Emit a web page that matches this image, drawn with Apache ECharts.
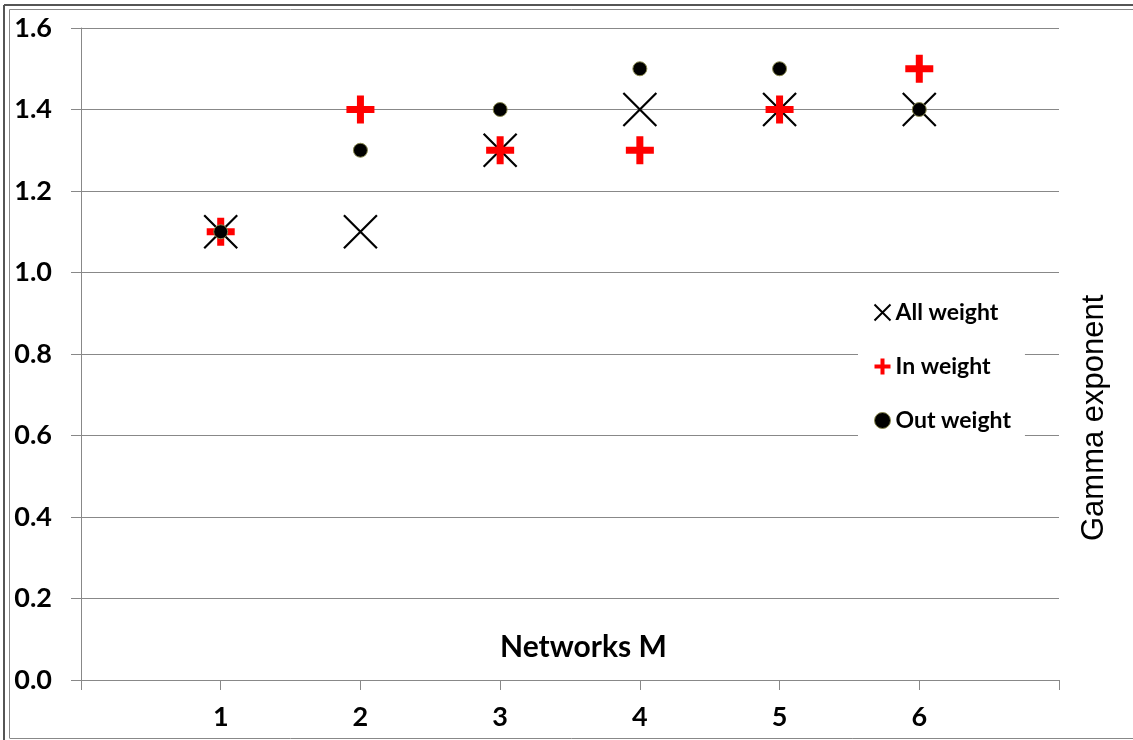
<!DOCTYPE html>
<html>
<head>
<meta charset="utf-8">
<style>
  html, body { margin: 0; padding: 0; background: #fff; }
  #chart { width: 1133px; height: 740px; }
</style>
<script src="https://cdn.jsdelivr.net/npm/echarts@6/dist/echarts.min.js"></script>
</head>
<body>
<div id="chart"></div>
<script>
// Networks M on the x axis, gamma exponent on the y axis
const networks = [1, 2, 3, 4, 5, 6];
const allWeight = [1.1, 1.1, 1.3, 1.4, 1.4, 1.4];
const inWeight = [1.1, 1.4, 1.3, 1.3, 1.4, 1.5];
const outWeight = [1.1, 1.3, 1.4, 1.5, 1.5, 1.4];
const seriesNames = ['All weight', 'In weight', 'Out weight'];
const xTitle = 'Networks M';
const yTitle = 'Gamma exponent';

const pairs = (ys) => networks.map((x, i) => [x, ys[i]]);

const crossPath = 'path://M0,0L10,10M10,0L0,10';
const plusPath = 'path://M10.5,0H17.5V10.5H28V17.5H17.5V28H10.5V17.5H0V10.5H10.5Z';

const labelFont = { fontFamily: 'Lato', fontWeight: 'bold', color: '#000' };

const chart = echarts.init(document.getElementById('chart'), null, { renderer: 'canvas' });
chart.setOption({
  animation: false,
  backgroundColor: '#fff',
  grid: { left: 81, right: 74, top: 28, bottom: 60, containLabel: false },
  xAxis: {
    type: 'value', min: 0, max: 7, interval: 1,
    splitLine: { show: false },
    axisLine: { lineStyle: { color: '#888', width: 1 } },
    axisTick: { show: true, length: 10, lineStyle: { color: '#888' } },
    axisLabel: Object.assign({
      fontSize: 27, margin: 24,
      formatter: (v) => (v >= 1 && v <= 6 ? String(v) : '')
    }, labelFont)
  },
  yAxis: {
    type: 'value', min: 0, max: 1.6, interval: 0.2,
    splitLine: { show: true, lineStyle: { color: '#888', width: 1 } },
    axisLine: { show: true, lineStyle: { color: '#888', width: 1 } },
    axisTick: { show: true, length: 10, lineStyle: { color: '#888' } },
    axisLabel: Object.assign({
      fontSize: 27, margin: 29, align: 'right',
      formatter: (v) => v.toFixed(1)
    }, labelFont)
  },
  legend: {
    orient: 'vertical',
    left: 858, top: 289,
    padding: [12, 14, 14, 14],
    backgroundColor: '#fff',
    itemGap: 31,
    itemWidth: 16, itemHeight: 16,
    textStyle: { fontFamily: 'Lato', fontWeight: 'bold', fontSize: 23, color: '#000' },
    data: [
      { name: seriesNames[0], icon: crossPath, itemStyle: { color: 'none', borderColor: '#000', borderWidth: 2, opacity: 1 } },
      { name: seriesNames[1], icon: plusPath, itemStyle: { color: '#ff0000', borderWidth: 0, opacity: 1 } },
      { name: seriesNames[2], icon: 'circle', itemStyle: { color: '#000', borderColor: '#8a8a50', borderWidth: 1, opacity: 1 } }
    ]
  },
  series: [
    {
      name: seriesNames[0], type: 'scatter', data: pairs(allWeight), z: 2,
      symbol: crossPath, symbolSize: 33,
      itemStyle: { color: 'none', borderColor: '#000', borderWidth: 2.2, opacity: 1 }
    },
    {
      name: seriesNames[1], type: 'scatter', data: pairs(inWeight), z: 3,
      symbol: plusPath, symbolSize: 28,
      itemStyle: { color: '#ff0000', borderWidth: 0, opacity: 1 }
    },
    {
      name: seriesNames[2], type: 'scatter', data: pairs(outWeight), z: 4,
      symbol: 'circle', symbolSize: 14,
      itemStyle: { color: '#000', borderColor: '#8a8a50', borderWidth: 1, opacity: 1 }
    }
  ],
  graphic: [
    // double frame on the left and top, single line at the bottom
    { type: 'line', shape: { x1: 4, y1: 5, x2: 4, y2: 740 }, style: { stroke: '#555', lineWidth: 2 }, silent: true },
    { type: 'line', shape: { x1: 9.5, y1: 9.5, x2: 9.5, y2: 738 }, style: { stroke: '#888', lineWidth: 1 }, silent: true },
    { type: 'line', shape: { x1: 4, y1: 5, x2: 1133, y2: 5 }, style: { stroke: '#555', lineWidth: 2 }, silent: true },
    { type: 'line', shape: { x1: 9.5, y1: 9.5, x2: 1133, y2: 9.5 }, style: { stroke: '#888', lineWidth: 1 }, silent: true },
    { type: 'line', shape: { x1: 9.5, y1: 738.5, x2: 1133, y2: 738.5 }, style: { stroke: '#888', lineWidth: 1 }, silent: true },
    {
      type: 'text', left: 500, top: 632, silent: true,
      style: { text: xTitle, fontFamily: 'Lato', fontWeight: 'bold', fontSize: 30, fill: '#000' }
    },
    {
      type: 'text', x: 1079, y: 541, rotation: Math.PI / 2, silent: true,
      style: { text: yTitle, fontFamily: 'Liberation Sans', fontSize: 31, fill: '#000' }
    }
  ]
});
</script>
</body>
</html>
